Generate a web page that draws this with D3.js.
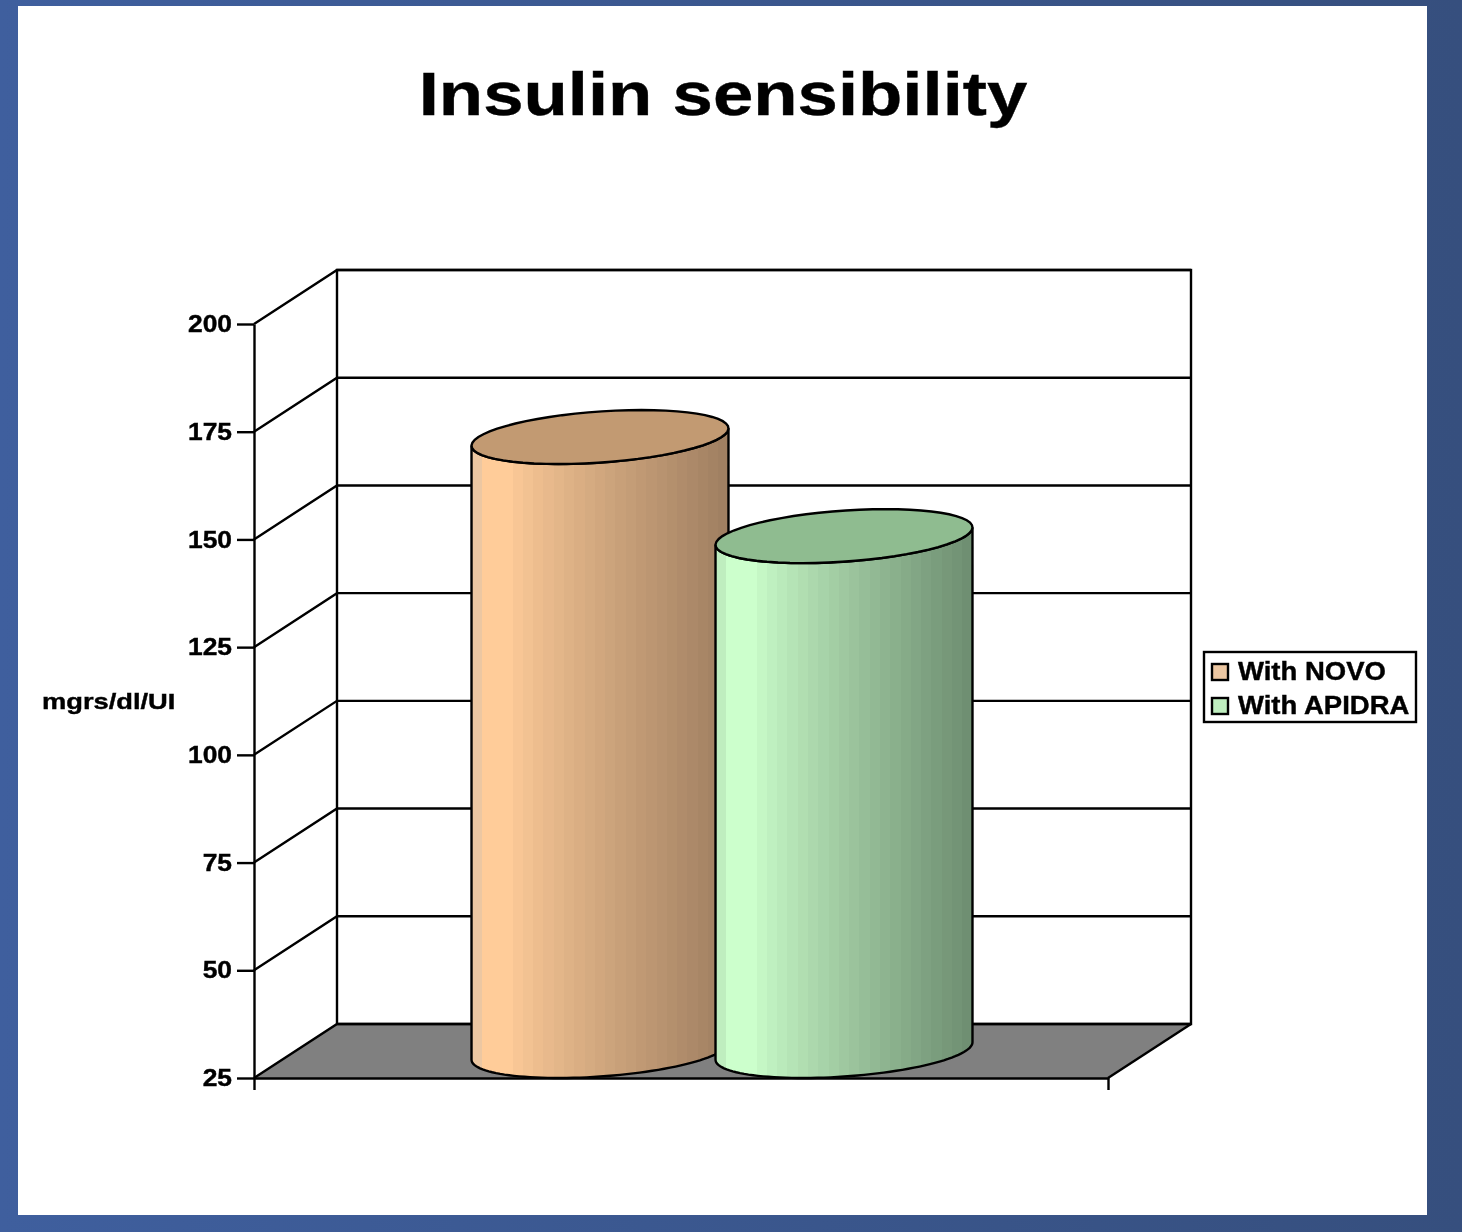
<!DOCTYPE html>
<html>
<head>
<meta charset="utf-8">
<script src="https://cdn.jsdelivr.net/npm/d3@7"></script>
<style>
  html, body { margin: 0; padding: 0; background: #3a5890; }
  svg { display: block; filter: blur(0.6px); }
  text { font-family: "Liberation Sans", Arial, sans-serif; font-weight: bold; fill: #000; stroke: #000; stroke-width: 0.4px; }
</style>
</head>
<body>
<script>
var series = ["With NOVO", "With APIDRA"];
var values = [167.5, 144.5];
var tickValues = [25, 50, 75, 100, 125, 150, 175, 200];
var lightColors = ["#ffcc99", "#ccffcc"];
var darkColors = ["#a08062", "#6f8f72"];
var edgeColors = ["#ecc7a2", "#bfeebf"];
var topColors = ["#c29a72", "#8fbc90"];

var W = 1462, H = 1232;
var depthX = 83, depthY = -54;

var svg = d3.select("body").append("svg").attr("width", W).attr("height", H);
var defs = svg.append("defs");

var bg = defs.append("linearGradient").attr("id", "bg");
bg.append("stop").attr("offset", 0).attr("stop-color", "#3f5f9e");
bg.append("stop").attr("offset", 1).attr("stop-color", "#364f7e");
svg.append("rect").attr("width", W).attr("height", H).attr("fill", "url(#bg)");
svg.append("rect").attr("x", 18).attr("y", 6).attr("width", 1409).attr("height", 1209).attr("fill", "#fff");

var y = d3.scaleLinear().domain([25, 200]).range([1078, 324]);
var xFront = d3.scaleLinear().domain([0, 1]).range([254, 1108]);
var xBar = d3.scalePoint().domain(series).range([558.5, 802.5]);

// the source font is wider than Liberation, stretch the glyphs to match
function stretch(sel, factor) {
  sel.each(function() {
    d3.select(this).attr("lengthAdjust", "spacingAndGlyphs")
      .attr("textLength", this.getComputedTextLength() * factor);
  });
}

svg.append("text").attr("x", 723).attr("y", 115).attr("text-anchor", "middle")
  .style("font-size", "62px").text("Insulin sensibility")
  .call(stretch, 1.17);

// back wall and floor
var x0 = xFront(0), x1 = xFront(1), yBase = y(25), yTop = y(200);
svg.append("path")
  .attr("d", d3.line()([[x0, yBase], [x1, yBase], [x1 + depthX, yBase + depthY], [x0 + depthX, yBase + depthY]]) + "Z")
  .attr("fill", "#808080");

var wall = svg.append("g").attr("fill", "none").attr("stroke", "#000").attr("stroke-width", 2.4);
wall.append("rect").attr("x", x0 + depthX).attr("y", yTop + depthY)
  .attr("width", x1 - x0).attr("height", yBase - yTop);
wall.selectAll(".grid").data(tickValues).join("path").attr("class", "grid")
  .attr("d", function(d) {
    return d3.line()([[x0, y(d)], [x0 + depthX, y(d) + depthY], [x1 + depthX, y(d) + depthY]]);
  });
wall.append("path").attr("d", d3.line()([[x1, yBase], [x1 + depthX, yBase + depthY]]));

// axes
var axisY = svg.append("g").attr("transform", "translate(" + x0 + ",0)")
  .call(d3.axisLeft(y).tickValues(tickValues).tickSize(17).tickSizeOuter(0).tickPadding(5));
axisY.selectAll("text").style("font-size", "24px").style("font-family", null).call(stretch, 1.1);
axisY.selectAll("line,path").attr("stroke", "#000").attr("stroke-width", 2.4);

var axisX = svg.append("g").attr("transform", "translate(0," + yBase + ")")
  .call(d3.axisBottom(xFront).tickValues([0, 1]).tickFormat("").tickSize(12).tickSizeOuter(0));
axisX.selectAll("line,path").attr("stroke", "#000").attr("stroke-width", 2.4);

svg.append("text").attr("x", 42).attr("y", 709).style("font-size", "22px").text("mgrs/dl/UI")
  .call(stretch, 1.24);

// cylinders: a circle in the sheared floor plane gives a tilted ellipse
var radiusX = 121.6, radiusDepth = 0.5;
function ellipsePoint(cx, cy, t) {
  return [cx + radiusX * Math.cos(t) + radiusDepth * depthX * Math.sin(t),
          cy + radiusDepth * depthY * Math.sin(t)];
}
function arc(cx, cy, a, b) {
  return d3.range(0, 61).map(function(i) { return ellipsePoint(cx, cy, a + (b - a) * i / 60); });
}
var tRight = Math.atan2(radiusDepth * depthX, radiusX);

var bands = d3.range(0, 25);
series.forEach(function(name, i) {
  var cx = xBar(name) + radiusDepth * depthX;
  var cyTop = y(values[i]) + radiusDepth * depthY;
  var cyBottom = yBase + radiusDepth * depthY;

  var grad = defs.append("linearGradient").attr("id", "body" + i);
  var shade = d3.interpolateRgb(lightColors[i], darkColors[i]);
  bands.forEach(function(b) {
    var c = b == 0 ? edgeColors[i] : b < 3 ? lightColors[i] : shade(Math.pow((b - 3) / 21, 0.85));
    grad.append("stop").attr("offset", b / 25).attr("stop-color", c);
    grad.append("stop").attr("offset", (b + 1) / 25).attr("stop-color", c);
  });

  var outline = arc(cx, cyTop, tRight - Math.PI, tRight)
    .concat(arc(cx, cyBottom, tRight, tRight - Math.PI));

  svg.append("path").attr("d", d3.line()(outline) + "Z")
    .attr("fill", "url(#body" + i + ")").attr("stroke", "#000").attr("stroke-width", 2.4);
  svg.append("path").attr("d", d3.line()(arc(cx, cyTop, 0, 2 * Math.PI)) + "Z")
    .attr("fill", topColors[i]).attr("stroke", "#000").attr("stroke-width", 2.4);
});

// legend
var legend = svg.append("g").attr("transform", "translate(1204,652)");
legend.append("rect").attr("width", 212).attr("height", 70).attr("fill", "#fff")
  .attr("stroke", "#000").attr("stroke-width", 2.4);
var rows = legend.selectAll(".row").data(series).join("g").attr("class", "row")
  .attr("transform", function(d, i) { return "translate(8," + (12 + i * 34) + ")"; });
rows.append("rect").attr("width", 16).attr("height", 16)
  .attr("fill", function(d, i) { return edgeColors[i]; })
  .attr("stroke", "#000").attr("stroke-width", 2.4);
rows.append("text").attr("x", 26).attr("y", 16).style("font-size", "25px").text(function(d) { return d; })
  .call(stretch, 1.1);
</script>
</body>
</html>
